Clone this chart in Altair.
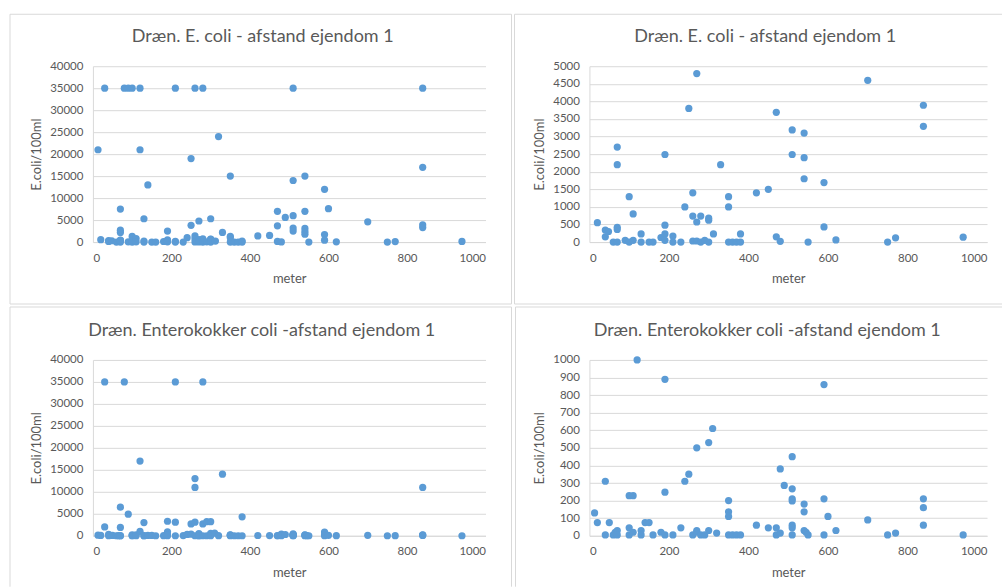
import altair as alt
import pandas as pd

# ---------------- data ----------------
ecoli_m = [13, 20, 30, 40, 40, 48, 60, 70, 70, 70, 70, 70, 70, 80, 90, 90, 100, 100, 100,
           110, 110, 120, 120, 130, 130, 130, 140, 150, 160, 180, 190, 190, 190, 190,
           210, 210, 210, 230, 240, 250, 250, 260, 260, 260, 260, 270, 270, 270,
           280, 280, 280, 290, 300, 300, 300, 300, 312, 320, 330, 350, 350, 350, 350,
           360, 370, 380, 380, 420, 450, 470, 470, 470, 480, 490, 510, 510, 510, 510, 510,
           540, 540, 540, 540, 540, 550, 590, 590, 590, 600, 620, 700, 750, 770,
           840, 840, 840, 840, 940]
ecoli_val = [21000, 550, 35000, 340, 150, 300, 0, 0, 7500, 2700, 2200, 420, 360, 35000, 35000, 50,
             35000, 0, 1290, 800, 50, 35000, 21000, 5300, 230, 0, 13000, 0, 0, 130, 480, 2490, 230, 50,
             35000, 170, 0, 0, 1000, 19000, 3800, 35000, 1400, 740, 30, 4790, 570, 30,
             35000, 740, 0, 50, 5300, 680, 620, 0, 230, 24000, 2200, 15000, 1290, 1000, 0,
             0, 0, 0, 230, 1400, 1500, 7000, 3690, 150, 20, 5600, 35000, 14000, 6000, 3190, 2490,
             15000, 7000, 3100, 2400, 1800, 0, 12000, 1690, 430, 7600, 60, 4600, 0, 120,
             35000, 17000, 3890, 3290, 140]

entero_m = [13, 20, 30, 30, 40, 40, 50, 60, 65, 70, 70, 70, 70, 80, 90, 100, 100, 100, 110, 110,
            120, 120, 130, 130, 130, 140, 150, 160, 180, 190, 190, 190, 190, 210, 210, 210,
            230, 240, 250, 250, 260, 260, 260, 260, 270, 270, 270, 280, 280, 280, 290, 290,
            300, 300, 300, 310, 320, 330, 350, 350, 350, 350, 360, 370, 380, 380, 420, 450,
            470, 470, 480, 480, 490, 510, 510, 510, 510, 510, 510, 510, 540, 540, 540, 545, 550,
            590, 590, 590, 600, 620, 700, 750, 770, 840, 840, 840, 840, 940]
entero_val = [130, 75, 35000, 2000, 310, 5, 75, 5, 20, 30, 5, 6500, 1900, 35000, 4900, 228, 45, 5, 228, 20,
              1000, 17000, 3000, 30, 5, 75, 75, 5, 20, 5, 890, 248, 3300, 35000, 3100, 5,
              45, 310, 350, 2700, 13000, 11000, 3100, 5, 500, 30, 20, 35000, 2700, 5, 3200, 5,
              3200, 530, 30, 610, 15, 14000, 200, 136, 110, 5, 5, 5, 5, 4300, 60, 45,
              45, 5, 380, 15, 286, 450, 267, 210, 198, 60, 45, 5, 180, 136, 30, 20, 5,
              860, 210, 5, 110, 30, 90, 5, 15, 11000, 210, 160, 60, 5]

x_ticks = [0, 200, 400, 600, 800, 1000]
y_ticks_big = [0, 5000, 10000, 15000, 20000, 25000, 30000, 35000, 40000]
y_ticks_5000 = [0, 500, 1000, 1500, 2000, 2500, 3000, 3500, 4000, 4500, 5000]
y_ticks_1000 = [0, 100, 200, 300, 400, 500, 600, 700, 800, 900, 1000]

title_ecoli = "Dræn. E. coli - afstand ejendom 1"
title_entero = "Dræn. Enterokokker coli -afstand ejendom 1"

# ---------------- styling ----------------
FONT = "Lato"
BLUE = "#5b9bd5"
GREY_TXT = "#595959"
LIGHT = "#d9d9d9"
H = 176

ecoli_df = pd.DataFrame({"m": ecoli_m, "v": ecoli_val})
entero_df = pd.DataFrame({"m": entero_m, "v": entero_val})


def panel(df, title, ymax, yticks, width, title_x, borders):
    x_enc = alt.X("m:Q",
                  scale=alt.Scale(domain=[0, 1000], nice=False, zero=True),
                  axis=alt.Axis(values=x_ticks, format="d", title="meter", grid=False,
                                ticks=False, tickSize=0, domain=True, domainColor=LIGHT,
                                labelPadding=10, labelFont=FONT, labelFontSize=11.5,
                                labelColor=GREY_TXT, titleFont=FONT, titleFontSize=13,
                                titleFontWeight="normal", titleColor=GREY_TXT,
                                titlePadding=9))
    y_enc = alt.Y("v:Q",
                  scale=alt.Scale(domain=[0, ymax], nice=False, zero=True),
                  axis=alt.Axis(values=yticks, format="d", title="E.coli/100ml", grid=True,
                                gridColor=LIGHT, ticks=False, tickSize=0, domain=True,
                                domainColor=LIGHT, labelPadding=10, labelFont=FONT,
                                labelFontSize=11.5, labelColor=GREY_TXT, titleFont=FONT,
                                titleFontSize=13, titleFontWeight="normal",
                                titleColor=GREY_TXT, titlePadding=6))
    pts = (alt.Chart(df)
           .transform_filter(alt.datum.v <= ymax)
           .mark_circle(size=52, color=BLUE, opacity=1)
           .encode(x=x_enc, y=y_enc))
    bdf = pd.DataFrame(borders, columns=["bx", "by", "bx2", "by2"])
    bord = (alt.Chart(bdf)
            .mark_rule(color=LIGHT, strokeWidth=1)
            .encode(x=alt.X("bx:Q", scale=None, axis=None),
                    y=alt.Y("by:Q", scale=None, axis=None),
                    x2="bx2:Q", y2="by2:Q"))
    ttl = (alt.Chart(pd.DataFrame({"t": [title]}))
           .mark_text(font=FONT, fontSize=18, color=GREY_TXT, align="center",
                      baseline="middle")
           .encode(x=alt.value(title_x), y=alt.value(-29), text="t:N"))
    return alt.layer(bord, pts, ttl).properties(width=width, height=H)


tl = panel(ecoli_df, title_ecoli, 40000, y_ticks_big, 393, 170,
           [(-83, -52, 419, -52), (-83, -52, -83, 238), (419, -52, 419, 238), (-83, 238, 419, 238)])
tr = panel(ecoli_df, title_ecoli, 5000, y_ticks_5000, 398, 176,
           [(-75, -52, 413, -52), (-75, -52, -75, 238), (-75, 238, 413, 238)])
bl = panel(entero_df, title_entero, 40000, y_ticks_big, 393, 169,
           [(-83, -53, 419, -53), (-83, -53, -83, 227), (419, -53, 419, 227)])
br = panel(entero_df, title_entero, 1000, y_ticks_1000, 398, 178,
           [(-74, -53, 413, -53), (-74, -53, -74, 227)])

chart = (alt.concat(tl, tr, bl, br, columns=2)
         .properties(spacing={"row": 118, "column": 104}, bounds="flush",
                     padding={"left": 9, "top": 13, "right": 0, "bottom": 0},
                     background="white")
         .configure_view(stroke=None))

chart.save("out.html", embed_options={"renderer": "svg", "actions": False})
